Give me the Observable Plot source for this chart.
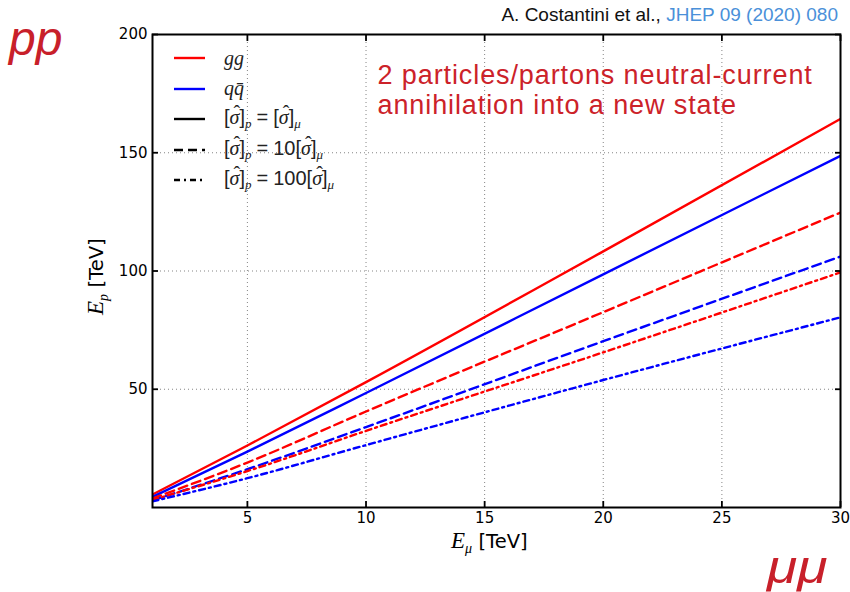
<!DOCTYPE html>
<html>
<head>
<meta charset="utf-8">
<script src="https://cdn.jsdelivr.net/npm/d3@7"></script>
<script src="https://cdn.jsdelivr.net/npm/@observablehq/plot@0.6"></script>
<style>
  body { margin: 0; background: #fff; }
  #wrap { position: relative; width: 850px; height: 592px; font-family: "Liberation Sans", Arial, sans-serif; }
  #wrap svg g[aria-label="text"] { letter-spacing: 0.9px; }
  .abs { position: absolute; white-space: nowrap; }
  .math { font-family: "Liberation Serif", "DejaVu Serif", serif; font-style: italic; }
  .hat { position: relative; display: inline-block; font-family: "Liberation Serif", serif; font-style: italic; }
  .hat::before { content: "\02C6"; position: absolute; left: 0.2em; top: -0.2em; font-style: normal; }
  .ref { right: 12px; top: 4px; font-size: 19px; color: #111; }
  .ref span { color: #4a90d9; }
  .beam { font-size: 48px; font-style: italic; color: #c8202a; font-family: "Liberation Sans", Arial, sans-serif; }
  .axlab { font-size: 23px; color: #000; }
  .axlab .unit { font-family: "DejaVu Sans", sans-serif; font-style: normal; font-size: 19.5px; }
  .axlab sub { font-size: 14px; vertical-align: -5px; }
  .legend { left: 174px; top: 43px; font-size: 20px; color: #222; }
  .legend .row { height: 30.5px; display: flex; align-items: center; }
  .legend svg { margin-right: 19px; }
  .legend sub { font-size: 13px; vertical-align: -4px; }
  .legend .eq { margin: 0 5px; }
</style>
</head>
<body>
<div id="wrap"></div>
<script>
// Muon-collider energy on the x axis, equivalent proton-collider energy on the y axis (TeV)
const eMu = [1, 5, 10, 20, 30];
const ggEqual = [5.5, 26.2, 53.0, 108.3, 164.3];
const qqEqual = [4.5, 23.6, 48.4, 98.6, 148.7];
const ggTen = [3.8, 19.0, 40.6, 82.6, 124.7];
const qqTen = [3.0, 16.2, 34.0, 70.3, 106.1];
const ggHundred = [3.2, 15.4, 32.4, 65.6, 99.4];
const qqHundred = [2.6, 12.4, 26.4, 53.9, 80.4];

const xTicks = [5, 10, 15, 20, 25, 30];
const yTicks = [50, 100, 150, 200];

const partonColors = { gg: "#ff0000", qq: "#0000ff" };
const ratioDash = { equal: null, ten: "9,5", hundred: "6,4,2,4" };

const series = [
  { parton: "gg", ratio: "equal", values: ggEqual },
  { parton: "qq", ratio: "equal", values: qqEqual },
  { parton: "gg", ratio: "ten", values: ggTen },
  { parton: "qq", ratio: "ten", values: qqTen },
  { parton: "gg", ratio: "hundred", values: ggHundred },
  { parton: "qq", ratio: "hundred", values: qqHundred }
];

const annotation = "2 particles/partons neutral-current\nannihilation into a new state";

const lineMarks = series.map(s =>
  Plot.line(eMu.map((x, i) => ({ x, y: s.values[i] })), {
    x: "x", y: "y",
    stroke: partonColors[s.parton],
    strokeWidth: 2.4,
    strokeDasharray: ratioDash[s.ratio],
    curve: "monotone-x",
    clip: true
  })
);

const gridStyle = { stroke: "#666", strokeOpacity: 0.8, strokeWidth: 1, strokeDasharray: "1,3" };

const plot = Plot.plot({
  width: 850,
  height: 592,
  marginLeft: 152,
  marginRight: 10,
  marginTop: 34,
  marginBottom: 85,
  x: { domain: [1, 30] },
  y: { domain: [0, 200] },
  style: { fontFamily: "DejaVu Sans, sans-serif", fontSize: "15px", color: "#000", background: "transparent" },
  marks: [
    Plot.gridX(xTicks, gridStyle),
    Plot.gridY(yTicks, gridStyle),
    ...lineMarks,
    Plot.axisX({ anchor: "bottom", ticks: xTicks, tickSize: -6, tickPadding: 11, label: null, strokeWidth: 1.8 }),
    Plot.axisX({ anchor: "top", ticks: xTicks, tickSize: -6, tickFormat: () => "", label: null, strokeWidth: 1.8 }),
    Plot.axisY({ anchor: "left", ticks: yTicks, tickSize: -6, tickPadding: 11, label: null, strokeWidth: 1.8 }),
    Plot.axisY({ anchor: "right", ticks: yTicks, tickSize: -6, tickFormat: () => "", label: null, strokeWidth: 1.8 }),
    Plot.frame({ stroke: "#000", strokeWidth: 2 }),
    Plot.text([annotation], {
      frameAnchor: "top-left",
      dx: 225, dy: 28,
      text: d => d,
      textAnchor: "start",
      lineAnchor: "top",
      lineHeight: 1.12,
      fontSize: 27,
      fontFamily: "Liberation Sans, Arial, sans-serif",
      fill: "#cc2229"
    })
  ]
});

const wrap = document.getElementById("wrap");
wrap.appendChild(plot);

// Reference line, beam labels and axis titles
function addHtml(html) {
  wrap.insertAdjacentHTML("beforeend", html);
}
addHtml(`<div class="abs ref">A. Costantini et al., <span>JHEP 09 (2020) 080</span></div>`);
addHtml(`<div class="abs beam" style="left:9px; top:11px;">pp</div>`);
addHtml(`<div class="abs beam" style="left:767px; top:540px; font-size:46px; transform: scaleX(1.2); transform-origin: left center;">μμ</div>`);
addHtml(`<div class="abs axlab" style="left:451px; top:527px;"><span class="math">E</span><sub class="math">μ</sub> <span class="unit">[TeV]</span></div>`);
addHtml(`<div class="abs axlab" style="left:50px; top:253px; width:94px; transform: rotate(-90deg); transform-origin: center;"><span class="math">E</span><sub class="math">p</sub> <span class="unit">[TeV]</span></div>`);

// Legend: parton colours, then line styles for the cross-section ratio
const sig = `[<span class="hat">σ</span>]`;
const legendItems = [
  { color: partonColors.gg, dash: null, label: `<span class="math">gg</span>` },
  { color: partonColors.qq, dash: null, label: `<span class="math">qq̄</span>` },
  { color: "#000", dash: ratioDash.equal, label: `${sig}<sub class="math">p</sub><span class="eq">=</span>${sig}<sub class="math">μ</sub>` },
  { color: "#000", dash: ratioDash.ten, label: `${sig}<sub class="math">p</sub><span class="eq">=</span>10${sig}<sub class="math">μ</sub>` },
  { color: "#000", dash: ratioDash.hundred, label: `${sig}<sub class="math">p</sub><span class="eq">=</span>100${sig}<sub class="math">μ</sub>` }
];
const legend = document.createElement("div");
legend.className = "abs legend";
legend.innerHTML = legendItems.map(d => `
  <div class="row">
    <svg width="31" height="10"><line x1="0" x2="31" y1="5" y2="5" stroke="${d.color}" stroke-width="2.4" ${d.dash ? `stroke-dasharray="${d.dash}"` : ""}/></svg>
    <span>${d.label}</span>
  </div>`).join("");
wrap.appendChild(legend);
</script>
</body>
</html>
